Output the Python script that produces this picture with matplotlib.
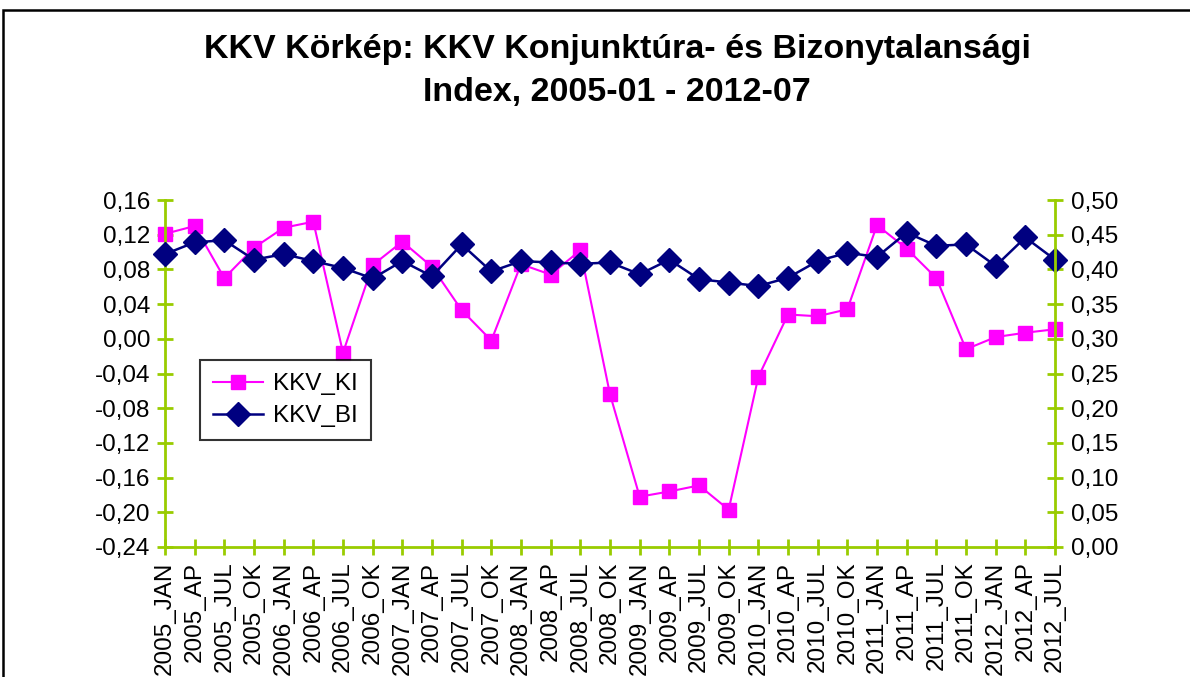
import matplotlib.pyplot as plt
from matplotlib.patches import Rectangle
from matplotlib.ticker import FuncFormatter

plt.rcParams['font.family'] = ['Liberation Sans', 'DejaVu Sans']

# quarterly periods
periods = [
    "2005_JAN", "2005_AP", "2005_JUL", "2005_OK",
    "2006_JAN", "2006_AP", "2006_JUL", "2006_OK",
    "2007_JAN", "2007_AP", "2007_JUL", "2007_OK",
    "2008_JAN", "2008_AP", "2008_JUL", "2008_OK",
    "2009_JAN", "2009_AP", "2009_JUL", "2009_OK",
    "2010_JAN", "2010_AP", "2010_JUL", "2010_OK",
    "2011_JAN", "2011_AP", "2011_JUL", "2011_OK",
    "2012_JAN", "2012_AP", "2012_JUL",
]

# KKV konjunktúra index (left axis)
kkv_ki = [
    0.121, 0.130, 0.070, 0.105,
    0.128, 0.135, -0.016, 0.085,
    0.112, 0.083, 0.033, -0.002,
    0.086, 0.074, 0.102, -0.064,
    -0.182, -0.176, -0.169, -0.197,
    -0.044, 0.028, 0.026, 0.034,
    0.131, 0.104, 0.070, -0.012,
    0.002, 0.007, 0.011,
]

# KKV bizonytalansági index (right axis)
kkv_bi = [
    0.422, 0.439, 0.442, 0.414,
    0.422, 0.412, 0.402, 0.387,
    0.412, 0.390, 0.436, 0.397,
    0.412, 0.410, 0.408, 0.410,
    0.393, 0.414, 0.386, 0.381,
    0.376, 0.388, 0.412, 0.424,
    0.418, 0.453, 0.434, 0.436,
    0.405, 0.446, 0.414,
]

left_ticks = [-0.24, -0.20, -0.16, -0.12, -0.08, -0.04, 0.00, 0.04, 0.08, 0.12, 0.16]
right_ticks = [0.00, 0.05, 0.10, 0.15, 0.20, 0.25, 0.30, 0.35, 0.40, 0.45, 0.50]

GREEN = "#99CC00"
FS = 17.5


def comma_fmt(v, pos):
    return f"{v:.2f}".replace(".", ",")


def main():
    fig = plt.figure(figsize=(11.9, 6.77), dpi=100)
    ax = fig.add_axes([165 / 1190, 1 - 547 / 677, 890 / 1190, 347 / 677])
    ax2 = ax.twinx()

    x = list(range(len(periods)))
    l1, = ax.plot(x, kkv_ki, color="#FF00FF", lw=1.5, marker="s", ms=9.5,
                  clip_on=False, label="KKV_KI")
    l2, = ax2.plot(x, kkv_bi, color="#000080", lw=1.8, marker="D", ms=12,
                   clip_on=False, label="KKV_BI")

    ax.set_xlim(0, len(periods) - 1)
    ax.set_ylim(-0.24, 0.16)
    ax2.set_ylim(0, 0.50)
    ax.set_yticks(left_ticks)
    ax2.set_yticks(right_ticks)
    ax.yaxis.set_major_formatter(FuncFormatter(comma_fmt))
    ax2.yaxis.set_major_formatter(FuncFormatter(comma_fmt))
    ax.set_xticks(x)
    ax.set_xticklabels(periods, rotation=90, va="top", ha="center")

    for a in (ax, ax2):
        for s in a.spines.values():
            s.set_visible(False)
    ax.spines["left"].set_visible(True)
    ax.spines["bottom"].set_visible(True)
    ax2.spines["right"].set_visible(True)
    for s in (ax.spines["left"], ax.spines["bottom"], ax2.spines["right"]):
        s.set_color(GREEN)
        s.set_linewidth(2)

    ax.tick_params(axis="both", direction="inout", length=11, width=2,
                   color=GREEN, labelsize=FS, labelcolor="black", pad=5)
    ax2.tick_params(axis="y", direction="inout", length=11, width=2,
                    color=GREEN, labelsize=FS, labelcolor="black", pad=6)

    fig.suptitle("KKV Körkép: KKV Konjunktúra- és Bizonytalansági\nIndex, 2005-01 - 2012-07",
                 x=617 / 1190, y=1 - 34 / 677, fontsize=24.5, fontweight="bold",
                 linespacing=1.5, va="top")

    leg = fig.legend([l1, l2], ["KKV_KI", "KKV_BI"], loc="upper left",
                     bbox_to_anchor=(200 / 1190, 1 - 360 / 677),
                     bbox_transform=fig.transFigure, fontsize=FS,
                     handlelength=2.05, handletextpad=0.4, fancybox=False,
                     frameon=True, borderaxespad=0, labelspacing=0.4,
                     borderpad=0.55)
    leg.get_frame().set_edgecolor("black")
    leg.get_frame().set_linewidth(1.5)

    # outer chart border
    fig.patches.append(Rectangle((3 / 1190, -0.1), 1.2, 1.1 - 10 / 677,
                                 transform=fig.transFigure, fill=False,
                                 edgecolor="black", lw=1.8))

    fig.savefig("out.png", dpi=100)


if __name__ == "__main__":
    main()
